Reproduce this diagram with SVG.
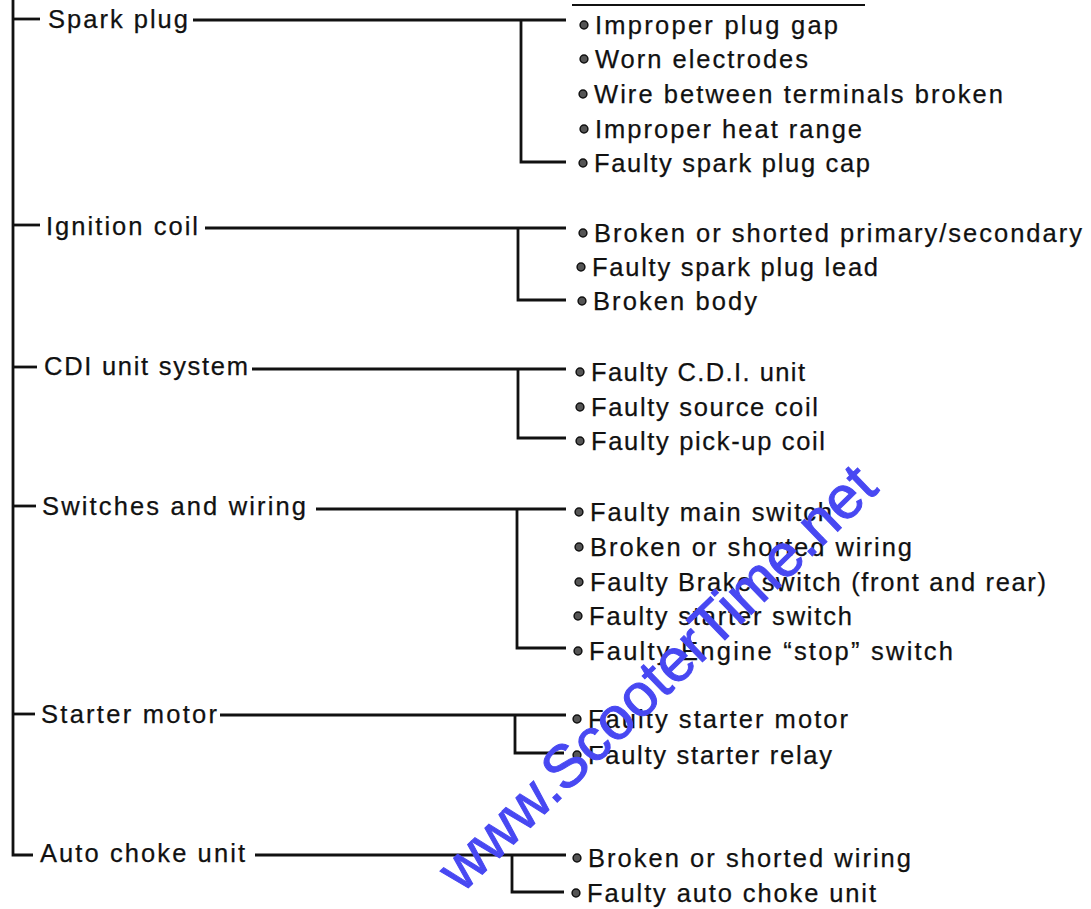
<svg xmlns="http://www.w3.org/2000/svg" xmlns:xlink="http://www.w3.org/1999/xlink" width="1091" height="909" viewBox="0 0 1091 909">
<style>
.t{font-family:"Liberation Sans",Arial,Helvetica,sans-serif;font-size:25.5px;fill:#111;stroke:#111;stroke-width:0.25;}
.ln{fill:none;stroke:#111;stroke-width:2.8;stroke-linecap:butt;stroke-linejoin:miter;}
.wm{font-family:"Liberation Sans",Arial,sans-serif;font-size:60px;fill:#4848f2;stroke:#4848f2;stroke-width:1;}
</style>
<defs>
<g id="b"><circle r="3.9" fill="#555" stroke="#111" stroke-width="1.5"/></g>
</defs>
<rect width="1091" height="909" fill="#fff"/>
<g id="connectors" class="ln">
<path d="M13,0 V855 H33"/>
<path d="M13,19 H40"/>
<path d="M13,225 H40"/>
<path d="M13,367 H37"/>
<path d="M13,506 H36"/>
<path d="M13,714 H35"/>
<path d="M572,5 H865" stroke-width="2"/>
<path d="M193,20 H566"/>
<path d="M521,21 V162 H566"/>
<path d="M205,228 H566"/>
<path d="M518,229 V300 H566"/>
<path d="M252,369 H566"/>
<path d="M518,370 V438 H566"/>
<path d="M316,509 H566"/>
<path d="M517,510 V648 H566"/>
<path d="M220,715 H566"/>
<path d="M515,716 V753 H564"/>
<path d="M255,855 H566"/>
<path d="M512,856 V892 H564"/>
</g>
<g id="spark-plug">
<text class="t" x="48" y="28" textLength="140" lengthAdjust="spacing">Spark plug</text>
<use xlink:href="#b" x="584" y="25"/><text class="t" x="595" y="34" textLength="243" lengthAdjust="spacing">Improper plug gap</text>
<use xlink:href="#b" x="584" y="59"/><text class="t" x="595" y="68" textLength="213" lengthAdjust="spacing">Worn electrodes</text>
<use xlink:href="#b" x="583" y="94"/><text class="t" x="594" y="103" textLength="409" lengthAdjust="spacing">Wire between terminals broken</text>
<use xlink:href="#b" x="584" y="129"/><text class="t" x="595" y="138" textLength="267" lengthAdjust="spacing">Improper heat range</text>
<use xlink:href="#b" x="583" y="163"/><text class="t" x="594" y="172" textLength="276" lengthAdjust="spacing">Faulty spark plug cap</text>
</g>
<g id="ignition-coil">
<text class="t" x="46" y="235" textLength="152" lengthAdjust="spacing">Ignition coil</text>
<use xlink:href="#b" x="583" y="233"/><text class="t" x="594" y="242" textLength="488" lengthAdjust="spacing">Broken or shorted primary/secondary</text>
<use xlink:href="#b" x="581" y="267"/><text class="t" x="592" y="276" textLength="286" lengthAdjust="spacing">Faulty spark plug lead</text>
<use xlink:href="#b" x="582" y="301"/><text class="t" x="593" y="310" textLength="164" lengthAdjust="spacing">Broken body</text>
</g>
<g id="cdi-unit-system">
<text class="t" x="44" y="375" textLength="204" lengthAdjust="spacing">CDI unit system</text>
<use xlink:href="#b" x="580" y="372"/><text class="t" x="591" y="381" textLength="214" lengthAdjust="spacing">Faulty C.D.I. unit</text>
<use xlink:href="#b" x="580" y="407"/><text class="t" x="591" y="416" textLength="227" lengthAdjust="spacing">Faulty source coil</text>
<use xlink:href="#b" x="580" y="441"/><text class="t" x="591" y="450" textLength="234" lengthAdjust="spacing">Faulty pick-up coil</text>
</g>
<g id="switches-and-wiring">
<text class="t" x="42" y="515" textLength="264" lengthAdjust="spacing">Switches and wiring</text>
<use xlink:href="#b" x="579" y="512"/><text class="t" x="590" y="521" textLength="242" lengthAdjust="spacing">Faulty main switch</text>
<use xlink:href="#b" x="579" y="547"/><text class="t" x="590" y="556" textLength="322" lengthAdjust="spacing">Broken or shorted wiring</text>
<use xlink:href="#b" x="579" y="582"/><text class="t" x="590" y="591" textLength="456" lengthAdjust="spacing">Faulty Brake switch (front and rear)</text>
<use xlink:href="#b" x="578" y="616"/><text class="t" x="589" y="625" textLength="263" lengthAdjust="spacing">Faulty starter switch</text>
<use xlink:href="#b" x="578" y="651"/><text class="t" x="589" y="660" textLength="364" lengthAdjust="spacing">Faulty Engine “stop” switch</text>
</g>
<g id="starter-motor">
<text class="t" x="41" y="723" textLength="176" lengthAdjust="spacing">Starter motor</text>
<use xlink:href="#b" x="577" y="719"/><text class="t" x="588" y="728" textLength="260" lengthAdjust="spacing">Faulty starter motor</text>
<use xlink:href="#b" x="577" y="755"/><text class="t" x="588" y="764" textLength="244" lengthAdjust="spacing">Faulty starter relay</text>
</g>
<g id="auto-choke-unit">
<text class="t" x="40" y="862" textLength="205" lengthAdjust="spacing">Auto choke unit</text>
<use xlink:href="#b" x="577" y="858"/><text class="t" x="588" y="867" textLength="323" lengthAdjust="spacing">Broken or shorted wiring</text>
<use xlink:href="#b" x="576" y="893"/><text class="t" x="587" y="902" textLength="289" lengthAdjust="spacing">Faulty auto choke unit</text>
</g>
<g id="watermark">
<text class="wm" transform="translate(462,894) rotate(-44)">www.ScooterTime.net</text>
</g>
</svg>
